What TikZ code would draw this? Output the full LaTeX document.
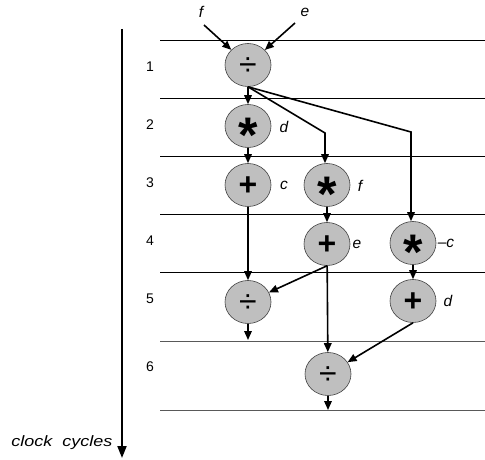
\documentclass[tikz,border=0pt]{standalone}
\usepackage{fontspec}
\usepackage{graphicx}
\setmainfont{Liberation Sans}
\usetikzlibrary{arrows.meta,shapes.geometric}
\definecolor{opfill}{gray}{0.75}
\definecolor{rulegray}{gray}{0.35}
% operator glyphs, centred on the node centre
\newcommand\opdiv{\raisebox{-10.9pt}[0pt][0pt]{\fontsize{32}{32}\selectfont ÷}}
\newcommand\opmul{\raisebox{-26.5pt}[0pt][0pt]{\fontsize{50}{50}\selectfont\bfseries *}}
\newcommand\opadd{\raisebox{-10.9pt}[0pt][0pt]{\fontsize{32}{32}\selectfont\bfseries +}}
\begin{document}
\begin{tikzpicture}[x=1pt,y=-1pt,
  op/.style={ellipse,minimum width=46pt,minimum height=43pt,inner sep=0pt,
    fill=opfill,draw=black!75,line width=0.6pt},
  lab/.style={font=\fontsize{15.5}{15.5}\selectfont\itshape,inner sep=0pt},
  cyc/.style={font=\fontsize{14}{14}\selectfont,inner sep=0pt},
  stage/.style={line width=0.9pt},
  flow/.style={line width=1.6pt,-{Triangle[length=9pt,width=7.5pt]}},
]
\useasboundingbox (0,0) rectangle (485,460);

% clock-cycle boundaries
\foreach \yy in {40,98,156,214,272} \draw[stage] (160,\yy) -- (485,\yy);
\foreach \yy in {341,410} \draw[stage,rulegray] (160,\yy) -- (485,\yy);

% time axis
\coordinate (tA) at (122,29);
\coordinate (tB) at (122,458);
\draw[line width=2pt,-{Triangle[length=12pt,width=9pt]}] (tA) -- (tB);
\node[font=\fontsize{15}{15}\selectfont\itshape,inner sep=0pt] (clk) at (62,443)
  {\scalebox{1.2}[1]{clock\ \ cycles}};

% cycle numbers
\node[cyc] (c1) at (150,67) {1};
\node[cyc] (c2) at (150,125) {2};
\node[cyc] (c3) at (150,183) {3};
\node[cyc] (c4) at (150,241) {4};
\node[cyc] (c5) at (150,299) {5};
\node[cyc] (c6) at (150,367) {6};

% operations
\node[op] (n1)  at (248,65)  {\opdiv};
\node[op] (n2)  at (248,126) {\opmul};
\node[op] (n3a) at (248,185) {\opadd};
\node[op] (n3b) at (327,185) {\opmul};
\node[op] (n4b) at (327,244) {\opadd};
\node[op] (n4c) at (413,243) {\opmul};
\node[op] (n5a) at (248,302) {\opdiv};
\node[op] (n5c) at (413,301) {\opadd};
\node[op] (n6)  at (328,374) {\opdiv};

% operand labels
\node[lab] (lf) at (201,12) {f};
\node[lab] (le) at (305,12) {e};
\node[lab] (l2) at (284,127) {d};
\node[lab] (l3a) at (284,185) {c};
\node[lab] (l3b) at (360,186) {f};
\node[lab] (l4b) at (357,244) {e};
\node[lab] (l4c) at (446,243) {–c};
\node[lab] (l5c) at (448,301) {d};

% inputs
\coordinate (inf) at (204,25);
\coordinate (ine) at (295,23);
\draw[flow] (inf) -- (n1);
\draw[flow] (ine) -- (n1);

% data flow
\coordinate (kB) at (325,133);
\coordinate (kC) at (411,132);
\draw[flow] (n1) -- (n2);
\draw[flow] (n1.south) -- (kB) -- (kB |- n3b.north);
\draw[flow] (n1.south) -- (kC) -- (kC |- n4c.north);
\draw[flow] (n2) -- (n3a);
\draw[flow] (n3a) -- (n5a);
\draw[flow] (n3b) -- (n4b);
\draw[flow] (n4b.south) -- (n5a);
\draw[flow] (n4b) -- (n6);
\draw[flow] (n4c) -- (n5c);
\draw[flow] (n5c.south) -- (n6);

% outputs
\coordinate (o5) at (248,340);
\coordinate (o6) at (328,410);
\draw[flow] (n5a) -- (o5);
\draw[flow] (n6) -- (o6);
\end{tikzpicture}
\end{document}
